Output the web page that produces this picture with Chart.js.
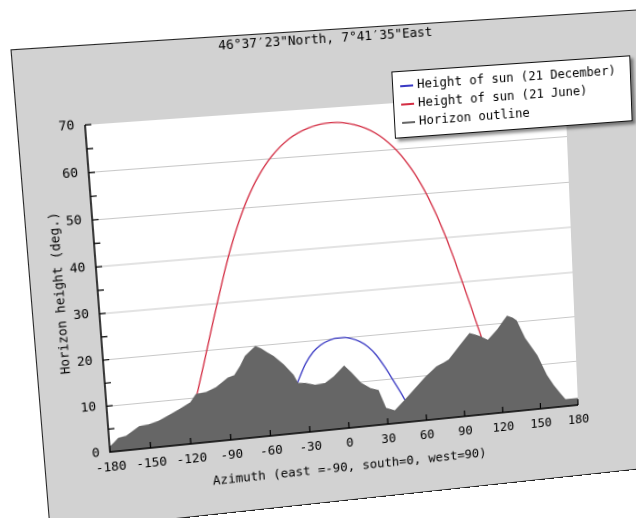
<!DOCTYPE html>
<html>
<head>
<meta charset="utf-8">
<script src="https://cdn.jsdelivr.net/npm/chart.js@4.4.1/dist/chart.umd.min.js"></script>
<style>
  html, body { margin:0; padding:0; background:#ffffff; overflow:hidden; width:636px; height:518px; }
  #panel { position:absolute; left:0; top:0; width:643px; height:474px; transform-origin:0 0; }
  #frame { position:absolute; left:4px; top:4px; width:639px; height:470px; background:#d2d2d2;
           box-sizing:border-box; border:1.5px solid #222; }
  #chart { position:absolute; left:0; top:0; }
  #legend { position:absolute; left:368px; top:49px; width:244px; height:66px; background:#fff;
            border:1px solid #111; box-sizing:border-box; box-shadow:3px 3px 3px rgba(0,0,0,0.45);
            font-family:"DejaVu Sans Mono", monospace; font-size:12.5px; color:#000; padding-top:4px; }
  #legend .row { height:18px; line-height:18px; white-space:nowrap; }
  #legend .sw { display:inline-block; width:13px; height:2px; margin:0 4px 0 7px; vertical-align:middle; }
</style>
</head>
<body>
<div id="panel">
  <div id="frame"></div>
  <canvas id="chart" width="643" height="460"></canvas>
  <div id="legend"></div>
</div>
<script>
// ---- data ----
const titleText = '46°37\u203223"North, 7°41\u203235"East';
const xTitle = 'Azimuth (east =-90, south=0, west=90)';
const yTitle = 'Horizon height (deg.)';

const decAz  = [-54, -48, -42, -36, -30, -24, -18, -12, -6, 0, 6, 12, 18, 24, 30, 36, 42, 48, 52];
const decAlt = [0, 4.2, 8.2, 11.8, 15.2, 17.5, 18.9, 19.7, 20.1, 20.1, 19.7, 18.9, 17.6, 15.6, 12.8, 9.6, 6.3, 2.7, 0];

const junAz  = [-125.4, -121.9, -116.7, -111.6, -106.6, -101.6, -96.5, -91.2, -85.7, -79.7, -73.0, -65.4, -56.4, -45.7, -32.6, -17.2, 0,
                17.2, 32.6, 45.7, 56.4, 65.4, 73.0, 79.7, 85.7, 91.2, 96.5, 101.6, 106.6, 111.6, 116.7, 121.9, 125.4];
const junAlt = [0, 2.8, 7.2, 11.9, 16.8, 21.8, 26.9, 32.0, 37.2, 42.3, 47.3, 52.1, 56.6, 60.6, 63.9, 66.0, 66.8,
                66.0, 63.9, 60.6, 56.6, 52.1, 47.3, 42.3, 37.2, 32.0, 26.9, 21.8, 16.8, 11.9, 7.2, 2.8, 0];

const horAz  = [-180, -176, -173, -167, -162, -157, -150, -143, -136, -127, -118, -113.5, -106, -98, -89, -84, -79, -75, -70, -67,
                -63, -59, -54, -47, -40, -37, -31, -24, -16, -9, -1, 4, 11, 18, 24, 29, 36, 44, 48, 53, 61, 70, 75, 80, 89, 97,
                101, 105, 111, 119, 124, 127, 131, 134, 140, 149, 156, 161, 166, 170, 175, 180];
const horAlt = [1.0, 2.0, 2.8, 3.1, 4.0, 4.9, 5.1, 5.6, 6.5, 7.7, 9.0, 10.7, 10.9, 11.8, 13.6, 14.0, 16.0, 18.0, 19.2, 19.9,
                19.3, 18.4, 17.4, 15.4, 12.9, 11.0, 10.8, 10.2, 10.4, 11.7, 13.8, 12.2, 9.7, 8.3, 7.7, 3.6, 2.8, 4.9, 6.0, 7.4, 9.6, 11.7, 12.3, 13.0, 15.9, 18.4,
                18.0, 17.5, 16.5, 18.7, 20.5, 21.5, 21.0, 20.3, 16.2, 12.1, 7.4, 5.0, 3.0, 1.5, 1.5, 1.5];

const xTicks = [-180, -150, -120, -90, -60, -30, 0, 30, 60, 90, 120, 150, 180];
const yMax = 70;

const labels = ['Height of sun (21 December)', 'Height of sun (21 June)', 'Horizon outline'];
const colors = ['#3a3ac4', '#d42e44', '#666666'];

const pts = (xs, ys) => xs.map((x, i) => ({x: x, y: ys[i]}));

const FONT = '"DejaVu Sans Mono", monospace';

const plotDeco = {
  id: 'plotDeco',
  beforeDraw(chart) {
    const {ctx, chartArea: a} = chart;
    ctx.save(); ctx.fillStyle = '#ffffff';
    ctx.fillRect(a.left, a.top, a.right - a.left, a.bottom - a.top);
    ctx.restore();
  },
  afterDatasetsDraw(chart) {
    const {ctx, chartArea: a, scales: {x, y}} = chart;
    ctx.save();
    ctx.strokeStyle = '#000'; ctx.lineWidth = 1.5;
    ctx.beginPath();
    ctx.moveTo(a.left, a.top); ctx.lineTo(a.left, a.bottom); ctx.lineTo(a.right, a.bottom);
    ctx.stroke();
    ctx.lineWidth = 1.2;
    ctx.beginPath();
    y.ticks.forEach(t => { const py = y.getPixelForValue(t.value); if (t.value > 0) { ctx.moveTo(a.left, py); ctx.lineTo(a.left + 6, py); } });
    x.ticks.forEach(t => { const px = x.getPixelForValue(t.value); if (t.value > -180) { ctx.moveTo(px, a.bottom); ctx.lineTo(px, a.bottom - 6); } });
    ctx.stroke();
    ctx.restore();
  }
};

const chart = new Chart(document.getElementById('chart'), {
  type: 'line',
  data: {
    datasets: [
      { label: labels[0], data: pts(decAz, decAlt), borderColor: colors[0], borderWidth: 1.3, pointRadius: 0,
        fill: false, cubicInterpolationMode: 'monotone', order: 1 },
      { label: labels[1], data: pts(junAz, junAlt), borderColor: colors[1], borderWidth: 1.3, pointRadius: 0,
        fill: false, cubicInterpolationMode: 'monotone', order: 2 },
      { label: labels[2], data: pts(horAz, horAlt), borderColor: colors[2], backgroundColor: colors[2], borderWidth: 1,
        pointRadius: 0, fill: 'origin', tension: 0, order: 0 }
    ]
  },
  options: {
    responsive: false, animation: false, devicePixelRatio: 2,
    layout: { padding: { left: 0, top: 0, right: 100, bottom: 0 } },
    plugins: {
      legend: { display: false },
      tooltip: { enabled: false },
      title: { display: true, text: titleText, fullSize: false, color: '#000',
               font: { family: FONT, size: 12.5, weight: 'normal' }, padding: { top: 6, bottom: 59 } }
    },
    scales: {
      x: { type: 'linear', min: -180, max: 180,
           afterBuildTicks: s => { s.ticks = xTicks.map(v => ({value: v})); },
           afterFit: s => { s.height = 60; },
           grid: { display: false, drawTicks: false }, border: { display: false },
           ticks: { padding: 8, maxRotation: 0, autoSkip: false, color: '#000', font: { family: FONT, size: 12.5 } },
           title: { display: true, text: xTitle, color: '#000', font: { family: FONT, size: 12.5 }, padding: { top: 0, bottom: 12.5 } } },
      y: { min: 0, max: yMax,
           afterFit: s => { s.width = 68; },
           ticks: { stepSize: 5, padding: 10, color: '#000', font: { family: FONT, size: 12.5 },
                    callback: v => (v % 10 === 0 ? String(v) : '') },
           grid: { drawTicks: false, lineWidth: 1,
                   color: c => (c.tick && c.tick.value % 10 === 0 && c.tick.value > 0 && c.tick.value < yMax) ? '#c8c8c8' : 'rgba(0,0,0,0)' },
           border: { display: false },
           title: { display: true, text: yTitle, color: '#000', font: { family: FONT, size: 12.5 }, padding: { top: 24.5, bottom: 0 } } }
    }
  },
  plugins: [plotDeco]
});

// legend built from the datasets
const lg = document.getElementById('legend');
chart.data.datasets.forEach(ds => {
  const row = document.createElement('div'); row.className = 'row';
  const sw = document.createElement('span'); sw.className = 'sw'; sw.style.background = ds.borderColor;
  row.appendChild(sw); row.appendChild(document.createTextNode(ds.label));
  lg.appendChild(row);
});

// perspective of the photographed screen: map the plot area corners onto the picture
function homography(src, dst) {
  const A = [], b = [];
  for (let i = 0; i < 4; i++) {
    const [x, y] = src[i], [X, Y] = dst[i];
    A.push([x, y, 1, 0, 0, 0, -x * X, -y * X]); b.push(X);
    A.push([0, 0, 0, x, y, 1, -x * Y, -y * Y]); b.push(Y);
  }
  const n = 8;
  for (let c = 0; c < n; c++) {
    let p = c;
    for (let r = c + 1; r < n; r++) if (Math.abs(A[r][c]) > Math.abs(A[p][c])) p = r;
    [A[c], A[p]] = [A[p], A[c]]; [b[c], b[p]] = [b[p], b[c]];
    for (let r = 0; r < n; r++) {
      if (r === c) continue;
      const f = A[r][c] / A[c][c];
      for (let k = c; k < n; k++) A[r][k] -= f * A[c][k];
      b[r] -= f * b[c];
    }
  }
  return b.map((v, i) => v / A[i][i]);
}
const ca = chart.chartArea;
const src = [[ca.left, ca.top], [ca.right, ca.top], [ca.right, ca.bottom], [ca.left, ca.bottom]];
const dst = [[85, 125], [565, 91], [578, 405], [110, 452]];
const h = homography(src, dst);
document.getElementById('panel').style.transform =
  `matrix3d(${h[0]},${h[3]},0,${h[6]},${h[1]},${h[4]},0,${h[7]},0,0,1,0,${h[2]},${h[5]},0,1)`;
</script>
</body>
</html>
